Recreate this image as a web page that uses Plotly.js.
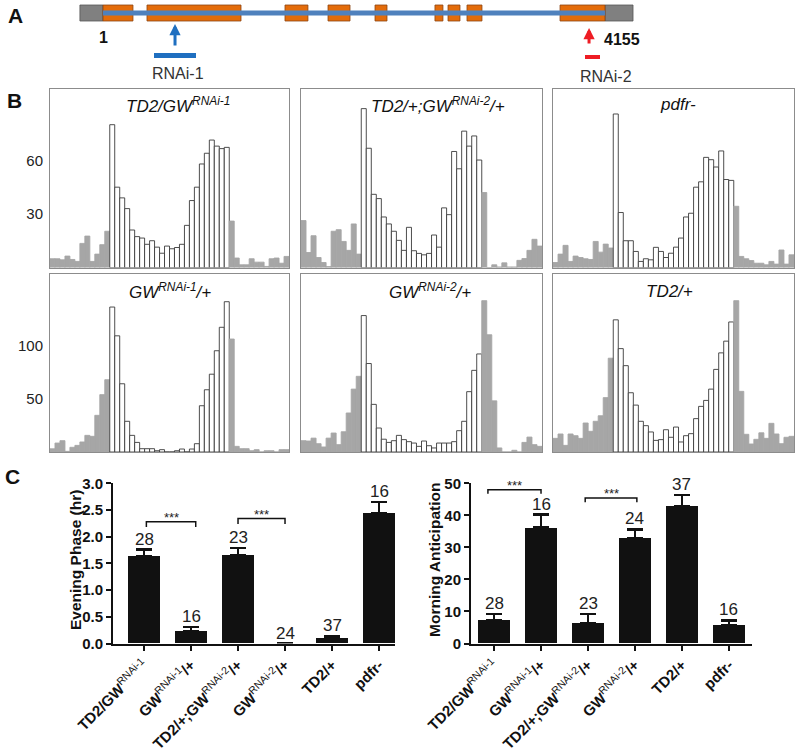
<!DOCTYPE html>
<html><head><meta charset="utf-8">
<script src="https://cdn.plot.ly/plotly-3.0.1.min.js"></script>
<style>html,body{margin:0;padding:0;background:#fff;}#chart{width:800px;height:753px;}</style>
</head><body><div id="chart"></div>
<script>
// ---------- Panel A: gene model (CDS nt coordinates) ----------
const utrStart = [-190, 4155];
const utrEnd = [1, 4387];
const exonStart = [1, 365, 1507, 1863, 2252, 2748, 2856, 3013, 3783];
const exonEnd = [249, 1143, 1697, 2045, 2351, 2814, 2955, 3137, 4155];
const rnaiNames = ['RNAi-1', 'RNAi-2'];
const rnaiStart = [423, 3990];
const rnaiEnd = [771, 4114];
const rnaiArrow = [597, 4023];
const cdsLabels = ['1', '4155'];

// ---------- Panel B: activity histograms (48 half-hour bins) ----------
const histTitles = ['TD2/GW<sup>RNAi-1</sup>', 'TD2/+;GW<sup>RNAi-2</sup>/+', 'pdfr-',
                    'GW<sup>RNAi-1</sup>/+', 'GW<sup>RNAi-2</sup>/+', 'TD2/+'];
const histTD2GW1 = [4.9,4.9,4.3,6.4,4.5,3.4,13.5,17.6,3.4,7.5,12.8,20.3,
  80,45,39,33,21,17.3,16.5,13,15,11.4,8,12,10.5,11.2,13,23.6,37.5,45,58,64,71.4,68,66.6,67.3,
  26,5.3,1.5,1.5,4.9,3,3,0.6,4.9,5.3,2.4,6.2];
const histTD2GW2 = [26.3,8.4,17.8,5.6,2.8,0.5,20.3,21.2,14.6,9.6,24.4,7.5,
  89,66.8,41,38.6,28.3,24.4,20.3,15.2,9.6,22.5,9.4,7.9,7.1,7.9,18.2,11.4,33.4,29.6,65,55.3,76.4,68,73.7,60.2,
  42,0,1.5,0.3,2.6,0.3,0.3,4,5,9.6,15.8,12];
const histPdfr = [2.8,7.5,12.4,3.4,6.4,5.6,4.9,4.5,14.6,8.6,13.1,10.9,
  86,30.8,15,15,9,3.4,4.9,4.3,11.3,9,5.6,8,11.4,16.5,28.3,30.4,45,48,61.7,60.4,56.3,65.3,49.3,48.8,
  34.3,6.2,4.9,3.9,2.4,2.4,1.5,3.4,1.9,9.8,1.9,7.1];
const histGW1 = [3,8.4,10.6,0.6,4.4,6.2,9.4,15.6,14.7,34.4,53.8,67.8,
  136,109,64,28.8,15.6,9,3.1,3.1,3.1,1.2,2.2,0,0,1.2,2.8,0,2.8,7.8,43.4,58.4,73,95,117,141,
  106,5.3,3.1,3.1,1.2,2.2,0,1.2,1.2,0,2.2,2.2];
const histGW2 = [10.6,10.3,13,7.8,4.7,13,17.8,6.9,19,36.6,59,71,
  128,83,44.7,22.5,12,9,10.6,15.6,11.6,9.7,8.4,5.3,10.3,5.9,3.8,8.4,8.4,8.4,9.7,20,28.8,56.6,76.6,92,
  142,110,48,3.8,0,0,1.6,0,9,14,6.9,5.3];
const histTD2 = [12.8,16.9,6.2,16.9,15.3,12.8,27.2,19.4,28.8,34,51,88,
  124,97,81,55.6,44,28.8,24.7,18.8,10.9,11.6,20.9,13.8,23.4,9.4,15.3,17.2,31.3,42.8,48.4,59,77.5,93,104,122,
  142,56.9,16.6,7.5,11.9,18,12.8,26.9,16.9,7.8,13.8,14.7];
const lightsOnBin = 12, lightsOffBin = 36;
const histTicksRow1 = [30, 60];
const histTicksRow2 = [50, 100];

// ---------- Panel C ----------
const genotypes = ['<b>TD2/GW</b><sup>RNAi-1</sup>', '<b>GW</b><sup>RNAi-1</sup><b>/+</b>',
  '<b>TD2/+;GW</b><sup>RNAi-2</sup><b>/+</b>', '<b>GW</b><sup>RNAi-2</sup><b>/+</b>',
  '<b>TD2/+</b>', '<b>pdfr-</b>'];
const eveningPhase = [1.64, 0.23, 1.66, 0, 0.105, 2.44];
const eveningSEM = [0.12, 0.08, 0.13, 0, 0.035, 0.21];
const morningAnt = [7.2, 36.2, 6.4, 32.8, 42.8, 5.8];
const morningSEM = [2.0, 4.0, 2.8, 2.8, 3.6, 1.4];
const nFlies = [28, 16, 23, 24, 37, 16];
const eveningBrackets = [[0.05, 1.1], [2.0, 3.0]];
const eveningBracketY = [2.28, 2.34];
const morningBrackets = [[-0.13, 1.0], [1.94, 3.04]];
const morningBracketY = [48, 45.4];
const sigText = '***';

// ---------- layout helpers ----------
const W = 800, H = 753;
const FONT = 'Arial, "Liberation Sans", sans-serif';
const fx = p => p / W;
const fy = p => 1 - p / H;

const traces = [];
const layout = {
  width: W, height: H, margin: {l: 0, r: 0, t: 0, b: 0},
  paper_bgcolor: '#fff', plot_bgcolor: 'rgba(0,0,0,0)',
  showlegend: false, barmode: 'overlay', bargap: 0,
  font: {family: FONT, color: '#222'},
  annotations: [], shapes: []
};

// ---- histograms ----
const hists = [histTD2GW1, histTD2GW2, histPdfr, histGW1, histGW2, histTD2];
const colX = [[50, 289], [301, 542], [553, 794]];
const rowY = [[89, 267.5], [274, 452]];
const rowTop = [100, 167];
const rowTicks = [histTicksRow1, histTicksRow2];
const titlePos = [[178, 105], [438, 105], [678, 105], [170, 291], [430, 291], [669, 291]];
hists.forEach((vals, i) => {
  const r = Math.floor(i / 3), c = i % 3, k = i + 1;
  const bins = vals.map((_, j) => j);
  const dark = bins.map(j => j < lightsOnBin || j >= lightsOffBin);
  traces.push({
    type: 'bar', x: bins, y: vals, width: 1, xaxis: 'x' + k, yaxis: 'y' + k,
    marker: {color: dark.map(d => d ? '#a6a6a6' : '#ffffff'),
             line: {color: dark.map(d => d ? '#a6a6a6' : '#3a3a3a'), width: 0.9}},
    hoverinfo: 'skip'
  });
  layout['xaxis' + k] = {domain: [fx(colX[c][0]), fx(colX[c][1])], range: [-0.5, 47.5], anchor: 'y' + k,
    showline: true, mirror: true, linecolor: '#8c8c8c', linewidth: 1, showgrid: false, zeroline: false,
    showticklabels: false, ticks: '', fixedrange: true};
  layout['yaxis' + k] = {domain: [fy(rowY[r][1]), fy(rowY[r][0])], range: [0, rowTop[r]], anchor: 'x' + k,
    showline: true, mirror: true, linecolor: '#8c8c8c', linewidth: 1, showgrid: false, zeroline: false,
    tickvals: rowTicks[r], ticks: '', showticklabels: c === 0, ticklabelstandoff: 3,
    tickfont: {size: 15, family: FONT, color: '#222'}, fixedrange: true};
  layout.annotations.push({xref: 'paper', yref: 'paper', x: fx(titlePos[i][0]), y: fy(titlePos[i][1]),
    text: '<i>' + histTitles[i] + '</i>', showarrow: false, xanchor: 'center', yanchor: 'middle',
    font: {size: 17, family: FONT, color: '#111'}});
});

// ---- Panel C bar charts ----
function barChart(k, vals, sem, xdom, xrange, yrange, dtick, fmt, brackets, bracketY, drop, title, titleX) {
  const cats = vals.map((_, j) => j);
  traces.push({type: 'bar', x: cats, y: vals, width: 0.7, xaxis: 'x' + k, yaxis: 'y' + k,
    marker: {color: '#111', line: {width: 0}},
    error_y: {type: 'data', symmetric: false, array: sem, arrayminus: sem.map(() => 0),
              color: '#111', thickness: 2.5, width: 8},
    hoverinfo: 'skip'});
  layout['xaxis' + k] = {domain: [fx(xdom[0]), fx(xdom[1])], range: xrange, anchor: 'y' + k,
    showline: true, linecolor: '#111', linewidth: 2, ticks: 'outside', ticklen: 5, tickwidth: 2,
    tickcolor: '#111', tickvals: cats, ticktext: genotypes, tickangle: -45, showgrid: false, zeroline: false,
    tickfont: {size: 15, family: FONT, color: '#111'}, fixedrange: true};
  layout['yaxis' + k] = {domain: [fy(643.5), fy(483.3)], range: yrange, anchor: 'x' + k,
    showline: true, linecolor: '#111', linewidth: 2, ticks: 'outside', ticklen: 5, tickwidth: 2,
    tickcolor: '#111', dtick: dtick, tickformat: fmt, showgrid: false, zeroline: false,
    tickfont: {size: 15, family: FONT, color: '#111', weight: 'bold'}, fixedrange: true};
  vals.forEach((v, j) => {
    layout.annotations.push({xref: 'x' + k, yref: 'y' + k, x: j, y: v + sem[j], text: String(nFlies[j]),
      showarrow: false, yanchor: 'bottom', yshift: -1, font: {size: 17, family: FONT, color: '#222'}});
  });
  brackets.forEach((b, j) => {
    const y = bracketY[j];
    traces.push({type: 'scatter', mode: 'lines', x: [b[0], b[0], b[1], b[1]], y: [y - drop, y, y, y - drop],
      xaxis: 'x' + k, yaxis: 'y' + k, line: {color: '#111', width: 1.5}, hoverinfo: 'skip'});
    layout.annotations.push({xref: 'x' + k, yref: 'y' + k, x: (b[0] + b[1]) / 2, y: y, text: sigText,
      showarrow: false, yanchor: 'bottom', yshift: -5, font: {size: 13, family: FONT, color: '#222'}});
  });
  layout.annotations.push({xref: 'paper', yref: 'paper', x: fx(titleX), y: fy(560), text: '<b>' + title + '</b>',
    textangle: -90, showarrow: false, xanchor: 'center', yanchor: 'middle',
    font: {size: 15.5, family: FONT, color: '#111'}});
}
barChart(7, eveningPhase, eveningSEM, [113, 395], [-0.66, 5.34], [0, 3], 0.5, '.1f',
  eveningBrackets, eveningBracketY, 0.1, 'Evening Phase (hr)', 75);
barChart(8, morningAnt, morningSEM, [471, 752], [-0.49, 5.49], [0, 50], 10, 'd',
  morningBrackets, morningBracketY, 1.3, 'Morning Anticipation', 434);

// ---- Panel A gene model ----
const g = p => (p - 103) * 8.275 + 1; // pixel -> nt for axis range
layout.xaxis9 = {domain: [0, 1], range: [g(0), g(W)], anchor: 'y9', visible: false, fixedrange: true};
layout.yaxis9 = {domain: [0, 1], range: [H, 0], anchor: 'x9', visible: false, fixedrange: true};
const geneY = 13;
traces.push({type: 'scatter', mode: 'lines', x: [exonStart[0], exonEnd[exonEnd.length - 1]], y: [geneY, geneY],
  xaxis: 'x9', yaxis: 'y9', line: {color: '#4f81bd', width: 5}, hoverinfo: 'skip'});
const boxStart = utrStart.concat(exonStart);
const boxEnd = utrEnd.concat(exonEnd);
traces.push({type: 'bar', orientation: 'h', base: boxStart, x: boxStart.map((s, j) => boxEnd[j] - s),
  y: boxStart.map(() => geneY), width: 16, xaxis: 'x9', yaxis: 'y9',
  marker: {color: boxStart.map((_, j) => j < utrStart.length ? '#808080' : '#e46c0a'),
           line: {color: boxStart.map((_, j) => j < utrStart.length ? '#555' : '#8b4513'), width: 0.8}},
  hoverinfo: 'skip'});
const rnaiColors = ['#1f6fc0', '#ee1c24'];
const rnaiBarY = [55.5, 57];
const rnaiBarH = [5, 4];
traces.push({type: 'bar', orientation: 'h', base: rnaiStart, x: rnaiStart.map((s, j) => rnaiEnd[j] - s),
  y: rnaiBarY, width: rnaiBarH, xaxis: 'x9', yaxis: 'y9', marker: {color: rnaiColors, line: {width: 0}},
  hoverinfo: 'skip'});
const arrowHead = [24, 28], arrowTail = [47, 45];
const labelY = [73, 76], labelShift = [3, 13];
rnaiNames.forEach((nm, j) => {
  layout.annotations.push({xref: 'x9', yref: 'y9', axref: 'x9', ayref: 'y9', x: rnaiArrow[j], y: arrowHead[j],
    ax: rnaiArrow[j], ay: arrowTail[j], text: '', showarrow: true, arrowhead: 2, arrowsize: 0.75,
    arrowwidth: 3, arrowcolor: rnaiColors[j]});
  layout.annotations.push({xref: 'x9', yref: 'y9', x: (rnaiStart[j] + rnaiEnd[j]) / 2, y: labelY[j], text: nm,
    showarrow: false, xanchor: 'center', yanchor: 'middle', xshift: labelShift[j],
    font: {size: 16, family: FONT, color: '#333'}});
});
layout.annotations.push({xref: 'x9', yref: 'y9', x: exonStart[0], y: 37.5, text: '<b>' + cdsLabels[0] + '</b>',
  showarrow: false, xanchor: 'center', yanchor: 'middle', font: {size: 16, family: FONT, color: '#111'}});
layout.annotations.push({xref: 'x9', yref: 'y9', x: exonEnd[exonEnd.length - 1], y: 39, text: '<b>' + cdsLabels[1] + '</b>',
  showarrow: false, xanchor: 'left', yanchor: 'middle', xshift: -3, font: {size: 16, family: FONT, color: '#111'}});

// ---- panel letters ----
[['A', 15, 16], ['B', 14, 100], ['C', 12, 476]].forEach(([t, x, y]) => {
  layout.annotations.push({xref: 'paper', yref: 'paper', x: fx(x), y: fy(y), text: '<b>' + t + '</b>',
    showarrow: false, xanchor: 'center', yanchor: 'middle', font: {size: 21, family: FONT, color: '#111'}});
});

Plotly.newPlot('chart', traces, layout, {staticPlot: true, displayModeBar: false});
</script></body></html>
